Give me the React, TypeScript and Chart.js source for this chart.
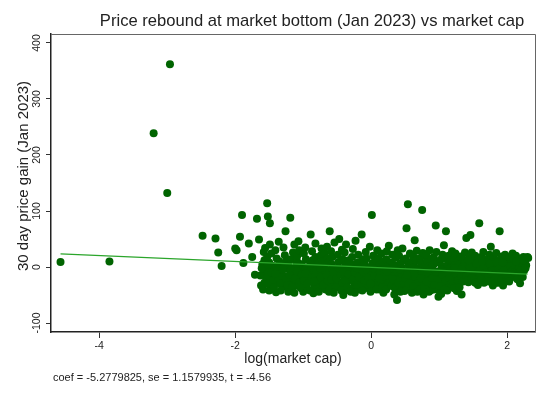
import { useEffect, useRef } from "react"
import { Chart, registerables } from "chart.js"

Chart.register(...registerables)

const chartTitle = "Price rebound at market bottom (Jan 2023) vs market cap"
const xTitle = "log(market cap)"
const yTitle = "30 day price gain (Jan 2023)"
const footnote = "coef = -5.2779825, se = 1.1579935, t = -4.56"

const xTicks = [-4, -2, 0, 2]
const yTicks = [-100, 0, 100, 200, 300, 400]

// [log(market cap), 30 day gain]
const outliers: [number, number][] = [
  [-4.57, 9], [-3.85, 10], [-3.2, 239], [-2.96, 362], [-3.0, 132],
]

const leftTail: [number, number][] = [
  [-2.48, 56], [-2.29, 51], [-2.25, 26], [-2.2, 2], [-2.0, 33], [-1.98, 30],
  [-1.93, 54], [-1.9, 93], [-1.88, 7], [-1.8, 42], [-1.75, 18], [-1.71, -14],
  [-1.68, 86], [-1.65, 49], [-1.53, 114], [-1.52, 90], [-1.49, 78],
]

const cloud: [number, number][] = [
  [-1.58, 27], [-1.62, -33], [-1.55, -8], [-1.6, 5], [-1.57, 12], [-1.63, -15], [-1.52, -22], [-1.56, 34],
  [-1.46, -32], [-1.5, 8], [-1.48, -3], [-1.53, 18], [-1.45, -18], [-1.49, 40], [-1.51, -11], [-1.44, 2], [-1.47, 24],
  [-1.4, -45], [-1.36, 45], [-1.38, -26], [-1.42, -6], [-1.35, 10], [-1.39, 15], [-1.33, -14], [-1.41, 30], [-1.37, -1],
  [-1.26, 64], [-1.3, -20], [-1.28, 6], [-1.25, -35], [-1.32, -9], [-1.27, 21], [-1.23, -2], [-1.29, 35], [-1.24, 12], [-1.31, -28],
  [-1.19, 88], [-1.2, -40], [-1.17, -12], [-1.22, 3], [-1.15, 26], [-1.18, 14], [-1.21, -24], [-1.16, -5], [-1.13, 40], [-1.14, -30],
  [-1.07, 46], [-1.1, -16], [-1.08, 8], [-1.12, -33], [-1.05, -4], [-1.09, 19], [-1.04, -22], [-1.11, 0], [-1.06, 30], [-1.03, -38],
  [-1.0, -44], [-0.98, -10], [-0.96, 14], [-1.02, 5], [-0.94, -26], [-0.97, 35], [-0.93, -3], [-0.99, 24], [-0.95, -18], [-1.01, -31],
  [-0.89, 58], [-0.85, -47], [-0.88, -8], [-0.86, 12], [-0.92, -20], [-0.84, 3], [-0.87, 28], [-0.83, -34], [-0.91, -1], [-0.82, 18],
  [-0.82, 42], [-0.79, -14], [-0.77, 7], [-0.75, -28], [-0.8, -37], [-0.74, 21], [-0.78, -4], [-0.73, 33], [-0.76, -20], [-0.72, 10],
  [-0.7, -12], [-0.68, 24], [-0.66, -30], [-0.69, 2], [-0.64, 15], [-0.67, -40], [-0.63, -6], [-0.65, 36], [-0.71, -22], [-0.62, 8],
  [-0.61, 64], [-0.6, -16], [-0.58, 5], [-0.56, -33], [-0.59, 28], [-0.55, -2], [-0.57, 18], [-0.53, -24], [-0.54, 44], [-0.52, -9],
  [-0.47, 50], [-0.41, -50], [-0.5, -12], [-0.48, 9], [-0.46, -28], [-0.49, 22], [-0.44, -4], [-0.43, 31], [-0.45, -38], [-0.42, 14],
  [-0.4, -18], [-0.38, 3], [-0.36, -30], [-0.39, 26], [-0.35, -7], [-0.37, 40], [-0.33, 12], [-0.34, -41], [-0.32, -22],
  [-0.3, -10], [-0.28, 18], [-0.26, -26], [-0.29, 5], [-0.25, -36], [-0.27, 32], [-0.24, -3], [-0.23, 47], [-0.22, -17],
  [-0.2, 8], [-0.18, -29], [-0.16, -12], [-0.19, 22], [-0.14, 58], [-0.17, -40], [-0.15, 1], [-0.13, 14], [-0.12, -21],
  [-0.1, -8], [-0.08, 27], [-0.06, -31], [-0.09, 4], [-0.05, -15], [-0.07, 15], [-0.04, -38], [-0.03, -2], [-0.02, 36],
  [0.01, 93], [0.0, -12], [0.02, 7], [0.04, -26], [0.03, 20], [0.06, -5], [0.05, -35], [0.07, 12], [0.08, -18], [0.09, 30],
  [0.1, -9], [0.12, 3], [0.14, -28], [0.11, 16], [0.13, -40], [0.15, 24], [0.16, -15], [0.18, -2], [0.17, 9], [0.19, -23],
  [0.2, -6], [0.22, 14], [0.24, -32], [0.21, -18], [0.23, 28], [0.25, 2], [0.27, -11], [0.26, 38], [0.28, -26], [0.29, 8],
  [0.34, -49], [0.38, -59], [0.3, -14], [0.32, 5], [0.31, 22], [0.33, -30], [0.35, -4], [0.36, 17], [0.37, -21], [0.39, 30],
  [0.4, -10], [0.42, 6], [0.44, -36], [0.41, 20], [0.43, -22], [0.45, -1], [0.46, 33], [0.48, -15], [0.47, 11], [0.49, -43],
  [0.54, 112], [0.52, 69], [0.5, -8], [0.51, 15], [0.53, -27], [0.55, 3], [0.56, -18], [0.57, 24], [0.58, -34], [0.59, 8],
  [0.64, 48], [0.6, -12], [0.62, 19], [0.61, -25], [0.63, 0], [0.65, -38], [0.66, 12], [0.68, -6], [0.67, 29], [0.69, -20],
  [0.75, 102], [0.77, -49], [0.7, -3], [0.72, 16], [0.71, -30], [0.73, 7], [0.74, -14], [0.76, 25], [0.78, -24], [0.79, 3],
  [0.8, -9], [0.82, 11], [0.84, -33], [0.81, 22], [0.83, -19], [0.85, 1], [0.86, 30], [0.88, -12], [0.87, -42], [0.89, 14],
  [0.95, 74], [0.99, -53], [0.9, -4], [0.92, 18], [0.91, -26], [0.93, 6], [0.94, -15], [0.96, 27], [0.97, -35], [0.98, 9],
  [1.1, 64], [1.07, 39], [1.03, -48], [1.0, -10], [1.02, 13], [1.01, -22], [1.04, 2], [1.05, 22], [1.06, -30], [1.08, -5], [1.09, 15],
  [1.11, -16], [1.13, 6], [1.12, -27], [1.14, 20], [1.16, -2], [1.15, -36], [1.17, 11], [1.18, -12], [1.19, 28],
  [1.26, -43], [1.2, -7], [1.22, 14], [1.21, -20], [1.23, 3], [1.24, 24], [1.25, -29], [1.27, -3], [1.28, 10], [1.29, -15],
  [1.33, -49], [1.3, 5], [1.32, -10], [1.31, 19], [1.34, -24], [1.35, 0], [1.36, 13], [1.37, -17], [1.38, 26], [1.39, -6],
  [1.4, 52], [1.46, 57], [1.48, 26], [1.41, -12], [1.42, 8], [1.43, -27], [1.44, 16], [1.45, -3], [1.47, -20], [1.49, 4],
  [1.59, 78], [1.5, -9], [1.52, 12], [1.51, -25], [1.53, 20], [1.54, -1], [1.55, -15], [1.56, 7], [1.57, -32], [1.58, 15],
  [1.6, -6], [1.62, 18], [1.61, -20], [1.63, 3], [1.64, -12], [1.65, 27], [1.66, -28], [1.67, 9], [1.68, -2], [1.69, 14],
  [1.76, 36], [1.79, -33], [1.7, -8], [1.72, 11], [1.71, -18], [1.73, 2], [1.74, 22], [1.75, -24], [1.77, 6], [1.78, -11],
  [1.89, 64], [1.8, 16], [1.82, -4], [1.81, -20], [1.83, 9], [1.84, 25], [1.85, -14], [1.86, 1], [1.87, -28], [1.88, 12],
  [1.94, -33], [1.9, -7], [1.92, 19], [1.91, 5], [1.93, -17], [1.95, 10], [1.96, -2], [1.97, 22], [1.98, -12], [1.99, 3],
  [2.0, 14], [2.02, -9], [2.01, -22], [2.03, 6], [2.04, 18], [2.05, -3], [2.06, -15], [2.07, 9], [2.08, 24], [2.09, -6],
  [2.1, 12], [2.12, -1], [2.11, -18], [2.13, 20], [2.14, 5], [2.15, -10], [2.16, 15], [2.17, -4], [2.18, 8], [2.19, -29],
  [2.2, 1], [2.22, 14], [2.21, -12], [2.23, 6], [2.24, 18], [2.25, -6], [2.26, 10], [2.28, 3], [2.31, 16],
]

// the solid core of the band
const cloudCore: [number, number][] = [
  [-1.59, -40], [-1.54, -20], [-1.61, -2], [-1.57, -28],
  [-1.5, -42], [-1.47, -10], [-1.53, -30], [-1.44, -24], [-1.52, 4],
  [-1.43, -36], [-1.37, -18], [-1.41, -12], [-1.34, -30], [-1.39, 0],
  [-1.33, -42], [-1.28, -16], [-1.3, -4], [-1.25, -22], [-1.22, -44],
  [-1.23, -32], [-1.18, -3], [-1.16, -36], [-1.2, -14], [-1.12, -20],
  [-1.13, -46], [-1.09, -8], [-1.06, -28], [-1.1, 6], [-1.02, -14],
  [-1.04, -36], [-0.99, -24], [-0.96, -2], [-0.93, -40], [-0.97, -12],
  [-0.94, -30], [-0.9, -42], [-0.87, -18], [-0.84, -6], [-0.9, 4],
  [-0.84, -26], [-0.8, -10], [-0.77, -44], [-0.75, -2], [-0.72, -34],
  [-0.74, -18], [-0.7, -32], [-0.67, -4], [-0.64, -24], [-0.62, -44],
  [-0.65, -14], [-0.61, -40], [-0.58, -22], [-0.55, -10], [-0.52, -36],
  [-0.55, -46], [-0.51, -20], [-0.48, -2], [-0.45, -14], [-0.42, -30],
  [-0.44, -42], [-0.41, -8], [-0.38, -24], [-0.35, -36], [-0.32, -2],
  [-0.33, -14], [-0.3, -44], [-0.27, -22], [-0.24, -10], [-0.21, -32],
  [-0.24, -46], [-0.21, -2], [-0.18, -18], [-0.15, -34], [-0.12, -8],
  [-0.13, -42], [-0.1, -24], [-0.07, -4], [-0.04, -20], [-0.01, -30],
  [-0.01, -44], [0.03, -2], [0.05, -16], [0.08, -40], [0.11, -26],
  [0.13, -10], [0.16, -36], [0.19, -4], [0.12, -20], [0.18, -46],
  [0.22, -40], [0.25, -16], [0.28, -2], [0.23, -8], [0.3, -34],
  [0.32, -22], [0.35, -38], [0.38, -8], [0.33, 2], [0.4, -28],
  [0.43, -44], [0.45, -12], [0.48, -28], [0.42, -4], [0.5, -20],
  [0.52, -40], [0.55, -30], [0.58, -8], [0.53, -14], [0.6, -46],
  [0.62, -34], [0.65, -18], [0.68, -44], [0.63, -8], [0.7, -26],
  [0.72, -40], [0.75, -10], [0.78, -36], [0.73, -20], [0.8, -2],
  [0.82, -26], [0.85, -44], [0.88, -2], [0.83, -10], [0.9, -20],
  [0.92, -40], [0.95, -8], [0.98, -24], [0.93, -32], [1.0, -42],
  [1.02, -34], [1.05, -14], [1.08, -40], [1.03, -4], [1.1, -24],
  [1.12, -42], [1.15, -20], [1.18, -30], [1.13, -8], [1.2, -34],
  [1.22, -38], [1.25, -12], [1.28, -24], [1.23, -2], [1.3, -36],
  [1.32, -16], [1.35, -26], [1.38, 6], [1.33, -4], [1.4, -16],
  [1.42, -24], [1.45, 0], [1.48, -20], [1.43, 12], [1.5, -6],
  [1.52, -22], [1.55, 6], [1.58, -8], [1.53, -28], [1.6, -16],
  [1.62, -22], [1.65, -2], [1.68, -10], [1.63, 10], [1.7, -24],
  [1.72, -16], [1.75, 6], [1.78, -6], [1.73, -26], [1.8, -14],
  [1.82, -20], [1.85, 8], [1.88, -4], [1.83, -28], [1.9, -10],
  [1.92, -22], [1.95, -6], [1.98, -16], [1.93, 8], [2.0, -24],
  [2.02, -16], [2.05, 2], [2.08, -6], [2.03, -26], [2.1, -10],
  [2.12, -12], [2.15, -22], [2.18, 0], [2.13, 10], [2.2, -6],
  [2.22, -10], [2.25, 12], [2.27, -2], [2.23, -18], [2.3, 18],
]

// fitted line end points
const fitX = [-4.57, 2.3]
const fitY = [23.6, -12.6]

const FONT = "'Liberation Sans', Arial, Helvetica, sans-serif"

const textPlugin = {
  id: "stataText",
  afterDraw(chart: Chart) {
    const { ctx, chartArea } = chart
    const yScale = chart.scales.y
    ctx.save()
    // outer box of plot region
    ctx.strokeStyle = "#666"
    ctx.lineWidth = 1
    ctx.beginPath()
    ctx.moveTo(chartArea.left, chartArea.top + 0.5)
    ctx.lineTo(chartArea.right + 0.5, chartArea.top + 0.5)
    ctx.lineTo(chartArea.right + 0.5, chartArea.bottom)
    ctx.stroke()

    ctx.fillStyle = "#222"
    // y tick labels, rotated
    ctx.font = `10.5px ${FONT}`
    ctx.textAlign = "center"
    ctx.textBaseline = "alphabetic"
    yTicks.forEach((v) => {
      ctx.save()
      ctx.translate(40, yScale.getPixelForValue(v))
      ctx.rotate(-Math.PI / 2)
      ctx.fillText(String(v), 0, 0)
      ctx.restore()
    })

    // y title
    ctx.font = `15px ${FONT}`
    ctx.save()
    ctx.translate(28, 176)
    ctx.rotate(-Math.PI / 2)
    ctx.textBaseline = "alphabetic"
    ctx.fillText(yTitle, 0, 0)
    ctx.restore()

    // x title
    ctx.font = `14px ${FONT}`
    ctx.textBaseline = "middle"
    ctx.fillText(xTitle, (chartArea.left + chartArea.right) / 2, 359)

    // chart title
    ctx.font = `16.6px ${FONT}`
    ctx.fillText(chartTitle, 312, 21)

    // footnote
    ctx.font = `11px ${FONT}`
    ctx.textAlign = "left"
    ctx.fillText(footnote, 53, 378)
    ctx.restore()
  },
}

export default function App() {
  const chartRef = useRef<HTMLCanvasElement>(null)
  const chartInstance = useRef<Chart | null>(null)

  useEffect(() => {
    if (!chartRef.current) return
    if (chartInstance.current) chartInstance.current.destroy()
    const ctx = chartRef.current.getContext("2d")
    if (!ctx) return

    const allPoints = [...outliers, ...leftTail, ...cloud, ...cloudCore].map(([x, y]) => ({ x, y }))

    chartInstance.current = new Chart(ctx, {
      type: "scatter",
      data: {
        datasets: [
          {
            type: "line",
            data: fitX.map((x, i) => ({ x, y: fitY[i] })),
            borderColor: "#2ba52b",
            borderWidth: 1.2,
            pointRadius: 0,
            fill: false,
            order: 0,
          },
          {
            type: "scatter",
            data: allPoints,
            backgroundColor: "#006400",
            borderWidth: 0,
            pointRadius: 4,
            order: 1,
          },
        ],
      },
      options: {
        animation: false,
        responsive: false,
        maintainAspectRatio: false,
        layout: { padding: { top: 34, right: 15, left: 0, bottom: 0 } },
        plugins: {
          legend: { display: false },
          title: { display: false },
          tooltip: { enabled: false },
        },
        scales: {
          x: {
            type: "linear",
            min: -4.71,
            max: 2.41,
            afterFit: (scale) => {
              scale.height = 68
            },
            afterBuildTicks: (scale) => {
              scale.ticks = xTicks.map((value) => ({ value }))
            },
            ticks: {
              color: "#222",
              padding: 2,
              font: { family: FONT, size: 10.5 },
              maxRotation: 0,
            },
            grid: { drawOnChartArea: false, tickLength: 6, color: "#333" },
            border: { color: "#222", width: 1.5 },
          },
          y: {
            type: "linear",
            min: -116,
            max: 416,
            afterFit: (scale) => {
              scale.width = 51
            },
            afterBuildTicks: (scale) => {
              scale.ticks = yTicks.map((value) => ({ value }))
            },
            ticks: { display: false },
            grid: { drawOnChartArea: false, tickLength: 5, color: "#333" },
            border: { color: "#222", width: 1.5 },
          },
        },
      },
      plugins: [textPlugin],
    })

    return () => {
      if (chartInstance.current) {
        chartInstance.current.destroy()
        chartInstance.current = null
      }
    }
  }, [])

  return (
    <div style={{ position: "fixed", left: 0, top: 0, width: 550, height: 400, background: "#fff" }}>
      <canvas ref={chartRef} width={550} height={400} />
    </div>
  )
}
